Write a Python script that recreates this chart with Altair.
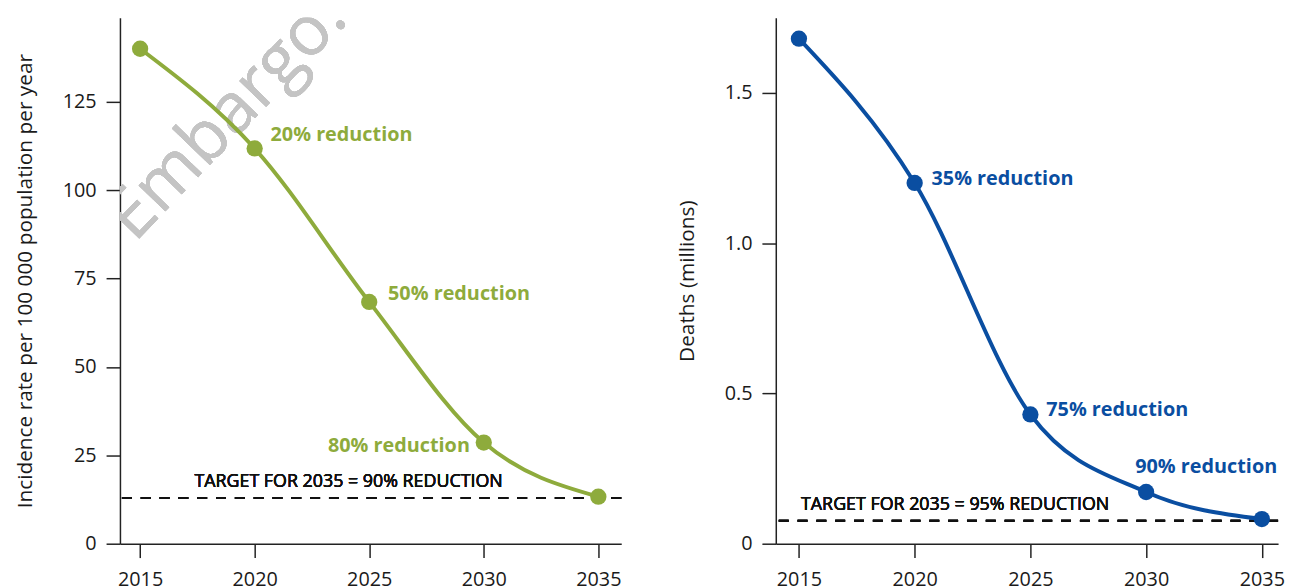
import altair as alt
import pandas as pd

years = [2015, 2020, 2025, 2030, 2035]
incidence = [140, 111.8, 68.4, 28.6, 13.3]
deaths = [1.68, 1.2, 0.43, 0.172, 0.082]
incidence_notes = ["", "20% reduction", "50% reduction", "80% reduction", ""]
deaths_notes = ["", "35% reduction", "75% reduction", "90% reduction", ""]
incidence_target = 12.9
deaths_target = 0.076
incidence_target_text = "TARGET FOR 2035 = 90% REDUCTION"
deaths_target_text = "TARGET FOR 2035 = 95% REDUCTION"
x_ticks = [2015, 2020, 2025, 2030, 2035]
incidence_ticks = [0, 25, 50, 75, 100, 125]
deaths_ticks = [0, 0.5, 1.0, 1.5]
watermark = "Embargo: T"

GREEN = "#8eab3c"
BLUE = "#0a4ea1"
FONT = "Open Sans"
AXIS_STYLE = dict(
    labelFont=FONT, titleFont=FONT, labelFontSize=20, titleFontSize=21,
    titleFontWeight="normal", labelColor="#1a1a1a", titleColor="#1a1a1a",
    domainColor="#222222", tickColor="#222222", domainWidth=1.5,
    tickWidth=1.5, tickSize=14, grid=False,
)


def panel(values, notes, target, target_text, target_x, color, xdom, ydom,
          yticks, ytitle, label_expr, offsets, width, show_watermark):
    df = pd.DataFrame({"year": years, "value": values, "note": notes})
    x = alt.X("year:Q",
              scale=alt.Scale(domain=xdom, nice=False, zero=False),
              axis=alt.Axis(values=x_ticks, format="d", title=None,
                            labelPadding=12, **AXIS_STYLE))
    y = alt.Y("value:Q",
              scale=alt.Scale(domain=ydom, nice=False, zero=True),
              axis=alt.Axis(values=yticks, title=ytitle, labelExpr=label_expr,
                            labelPadding=10, titlePadding=27, **AXIS_STYLE))
    base = alt.Chart(df)
    layers = []
    if show_watermark:
        layers.append(
            base.mark_text(text=watermark, angle=314, fontSize=70, font=FONT,
                           color="#c4c4c4", align="left", baseline="alphabetic",
                           clip=True)
            .encode(x=alt.datum(2014.75), y=alt.datum(85))
        )
    layers.append(
        base.mark_rule(color="#111111", strokeWidth=2, strokeDash=[10, 9])
        .encode(y=alt.datum(target))
    )
    layers.append(
        base.mark_text(text=target_text, font=FONT, fontSize=18,
                       fontWeight="normal", color="#111111",
                       align="center", baseline="middle", dy=-16)
        .encode(x=alt.datum(target_x), y=alt.datum(target))
    )
    layers.append(
        base.mark_line(color=color, strokeWidth=4, interpolate="monotone")
        .encode(x=x, y=y)
    )
    layers.append(
        base.mark_circle(color=color, size=270, opacity=1).encode(x=x, y=y)
    )
    for note, (align, dx, dy) in offsets.items():
        layers.append(
            base.transform_filter(alt.datum.note == note)
            .mark_text(font=FONT, fontSize=20, fontWeight="bold", color=color,
                       align=align, baseline="middle", dx=dx, dy=dy)
            .encode(x=x, y=y, text="note:N")
        )
    return alt.layer(*layers).properties(width=width, height=531)


left = panel(
    incidence, incidence_notes, incidence_target, incidence_target_text, 2024.1,
    GREEN, [2014.12, 2036.0], [0, 148.8], incidence_ticks,
    "Incidence rate per 100 000 population per year",
    "format(datum.value, 'd')",
    {"20% reduction": ("left", 16, -14),
     "50% reduction": ("left", 19, -8),
     "80% reduction": ("right", -14, 3)},
    506, True,
)

right = panel(
    deaths, deaths_notes, deaths_target, deaths_target_text, 2021.75,
    BLUE, [2014.0, 2035.7], [0, 1.75], deaths_ticks,
    "Deaths (millions)",
    "datum.value == 0 ? '0' : format(datum.value, '.1f')",
    {"35% reduction": ("left", 17, -4),
     "75% reduction": ("left", 16, -4),
     "90% reduction": ("left", -11, -25)},
    507, False,
)

chart = (
    alt.hconcat(left, right, spacing=54)
    .properties(padding={"left": 6, "top": 7, "right": 0, "bottom": 0})
    .configure_view(stroke=None)
    .configure_axis(**AXIS_STYLE)
)

chart.save("out.html", embed_options={"renderer": "svg", "actions": False})
